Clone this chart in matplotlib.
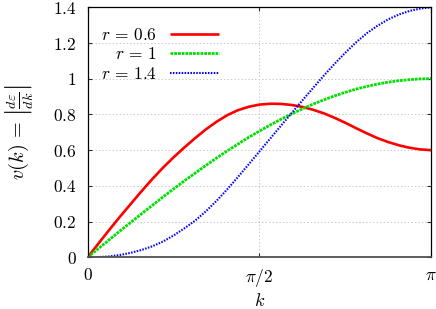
import numpy as np
import matplotlib
matplotlib.use("Agg")
import matplotlib.pyplot as plt

plt.rcParams['mathtext.fontset'] = 'cm'
plt.rcParams['font.family'] = ['DejaVu Serif']
plt.rcParams['lines.scale_dashes'] = False

# k samples at j*pi/32, j = 0..32
k_frac = [j / 32 for j in range(33)]
v_r06 = [0.0, 0.077, 0.153, 0.227, 0.298, 0.369, 0.437, 0.501, 0.56, 0.615, 0.667,
         0.716, 0.759, 0.796, 0.824, 0.843, 0.855, 0.86, 0.859, 0.853, 0.842,
         0.826, 0.806, 0.781, 0.753, 0.723, 0.694, 0.667, 0.645, 0.627, 0.613,
         0.604, 0.60]
v_r10 = [0.0, 0.049, 0.098, 0.147, 0.195, 0.243, 0.290, 0.337, 0.383, 0.428, 0.471,
         0.514, 0.556, 0.596, 0.634, 0.672, 0.707, 0.741, 0.773, 0.803, 0.831,
         0.858, 0.882, 0.904, 0.924, 0.942, 0.957, 0.970, 0.981, 0.989, 0.995,
         0.999, 1.0]
v_r14 = [0.0, 0.001, 0.005, 0.013, 0.025, 0.041, 0.061, 0.088, 0.122, 0.162, 0.205,
         0.257, 0.316, 0.381, 0.45, 0.521, 0.593, 0.665, 0.737, 0.808, 0.879,
         0.949, 1.018, 1.084, 1.146, 1.204, 1.255, 1.297, 1.333, 1.36, 1.38,
         1.393, 1.40]
labels = [r'$r\,=\,0.6$', r'$r\,=\,1$', r'$r\,=\,1.4$']

ytick_vals = [0, 0.2, 0.4, 0.6, 0.8, 1.0, 1.2, 1.4]
ytick_labels = ['$0$', '$0.2$', '$0.4$', '$0.6$', '$0.8$', '$1$', '$1.2$', '$1.4$']
xtick_vals = [0, np.pi / 2, np.pi]
xtick_labels = ['$0$', r'$\pi/2$', r'$\pi$']

k = np.array(k_frac) * np.pi

fig = plt.figure(figsize=(4.36, 3.09), dpi=100)
ax = fig.add_axes([0.2011, 0.1673, 0.9892 - 0.2011, 0.9764 - 0.1673])

ax.plot(k, v_r06, color='#ff0000', lw=1.9, solid_capstyle='butt', label=labels[0])
ax.plot(k, v_r10, color='#00e000', lw=2.0, dashes=(2.0, 0.7), label=labels[1])
ax.plot(k, v_r14, color='#0000ff', lw=1.5, dashes=(1.1, 1.0), label=labels[2])

ax.set_xlim(0, np.pi)
ax.set_ylim(0, 1.4)
ax.set_xticks(xtick_vals)
ax.set_xticklabels(xtick_labels)
ax.set_yticks(ytick_vals)
ax.set_yticklabels(ytick_labels)
ax.tick_params(direction='in', length=3.2, width=0.8, labelsize=12.5,
               top=True, right=True, color='#303030')
ax.tick_params(axis='y', pad=8)
ax.tick_params(axis='x', pad=7)

ax.grid(True, color='#c8c8c8', lw=0.7, linestyle=(0, (1, 1.5)))
ax.set_axisbelow(True)
for s in ['left', 'top', 'right']:
    ax.spines[s].set_color('black')
    ax.spines[s].set_linewidth(0.9)
ax.spines['bottom'].set_color('#505050')
ax.spines['bottom'].set_linewidth(1.3)

ax.set_xlabel('$k$', fontsize=13, labelpad=2)
ax.set_ylabel(r'$v(k)\,=\,\left|\frac{d\varepsilon}{dk}\right|$', fontsize=14.5, labelpad=13)

leg = ax.legend(loc='upper left', markerfirst=False, frameon=False, fontsize=12.5,
                handlelength=2.8, handletextpad=0.75, labelspacing=0.15,
                borderaxespad=0.0, bbox_to_anchor=(0.018, 0.95))

fig.savefig('out.png', dpi=100)
